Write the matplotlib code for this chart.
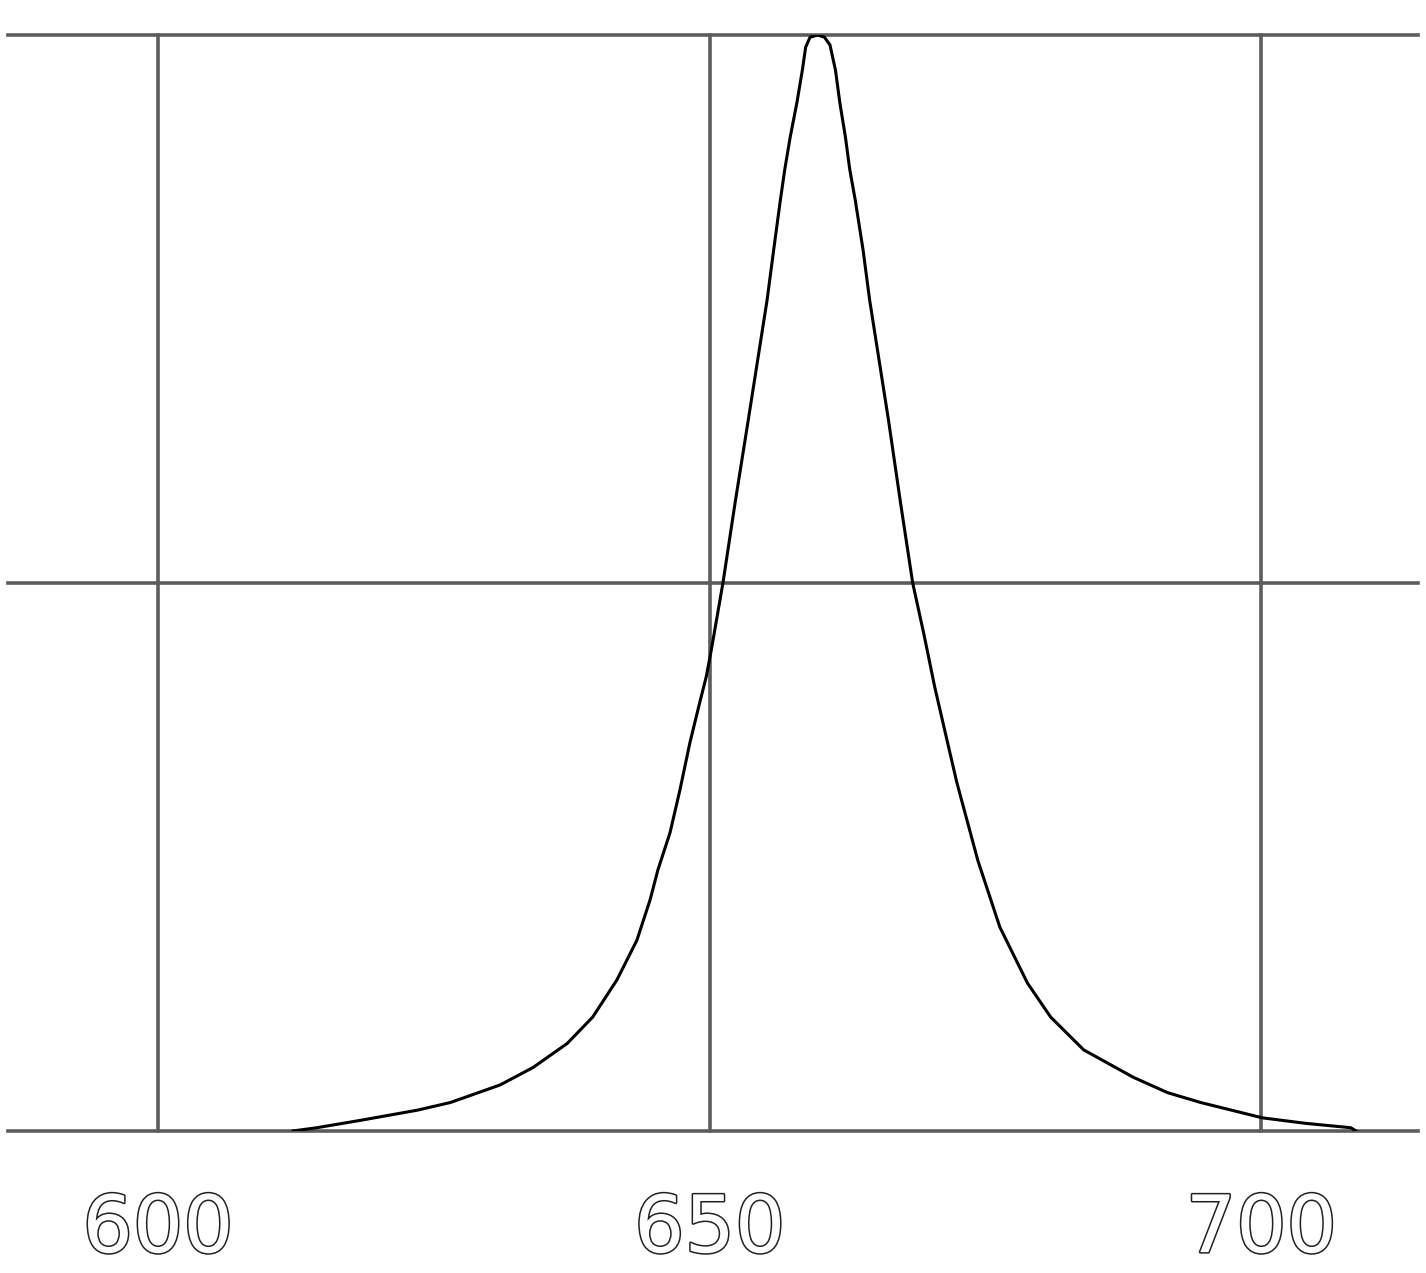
import matplotlib
matplotlib.use("Agg")
import matplotlib.pyplot as plt
import matplotlib.patheffects as pe

# wavelength (nm) and relative intensity
wavelength = [612.2, 614.4, 618.5, 623.5, 626.5, 631.0, 634.0, 637.1, 639.4,
              641.6, 643.4, 644.6, 645.3, 646.4, 647.3, 648.2, 649.0, 649.7,
              650.2, 651.2, 652.3, 653.5, 655.2, 655.8, 656.4, 656.8, 657.3,
              657.9, 658.4, 658.7, 659.1, 659.8, 660.4, 660.9, 661.4, 661.8,
              662.3, 662.7, 663.2, 663.9, 664.5, 666.2, 667.3, 668.4, 669.4,
              670.4, 671.5, 672.4, 674.3, 676.3, 678.8, 680.9, 683.9, 688.4,
              691.5, 694.5, 700.1, 704.0, 708.1, 708.6]
intensity = [0.0, 0.003, 0.010, 0.019, 0.026, 0.042, 0.058, 0.080, 0.104,
             0.138, 0.174, 0.211, 0.238, 0.272, 0.311, 0.354, 0.387, 0.415,
             0.442, 0.500, 0.573, 0.649, 0.758, 0.804, 0.849, 0.877, 0.907,
             0.938, 0.968, 0.989, 0.998, 1.0, 0.998, 0.991, 0.968, 0.938,
             0.907, 0.877, 0.849, 0.804, 0.758, 0.649, 0.573, 0.500, 0.454,
             0.405, 0.357, 0.318, 0.247, 0.186, 0.135, 0.104, 0.074, 0.049,
             0.035, 0.026, 0.012, 0.007, 0.003, 0.0]

xticks = [600, 650, 700]
xtick_labels = ['600', '650', '700']
yticks = [0, 0.5, 1.0]

fig = plt.figure(figsize=(14.26, 12.73), dpi=100)
W, H = 1426, 1273
ax = fig.add_axes([8 / W, (H - 1131) / H, (1418 - 8) / W, (1131 - 35) / H])

ax.plot(wavelength, intensity, color='black', lw=2.2, zorder=3,
        solid_joinstyle='round', solid_capstyle='round')

ax.set_xlim(586.4, 714.2)
ax.set_ylim(0, 1)
ax.set_xticks(xticks)
ax.set_xticklabels(xtick_labels)
ax.set_yticks(yticks)
ax.set_yticklabels([])
ax.tick_params(axis='both', length=0)
ax.tick_params(axis='x', pad=44, labelsize=57)

ax.grid(True, color='#5c5c5c', lw=2.6)
for line in ax.get_xgridlines() + ax.get_ygridlines():
    line.set_clip_on(False)

for spine in ax.spines.values():
    spine.set_visible(False)

for lab in ax.get_xticklabels():
    lab.set_color('white')
    lab.set_path_effects([pe.withStroke(linewidth=2.2, foreground='#222222')])

fig.savefig('out.png', dpi=100)
